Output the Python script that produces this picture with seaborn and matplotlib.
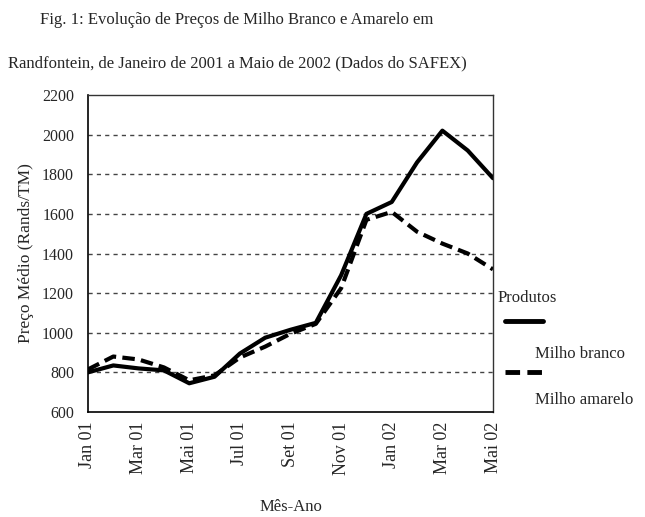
import numpy as np
import pandas as pd
import matplotlib
matplotlib.use("Agg")
import matplotlib.pyplot as plt
import seaborn as sns
from matplotlib.lines import Line2D

# monthly prices, Jan 2001 .. May 2002
meses = ["Jan 01", "Fev 01", "Mar 01", "Abr 01", "Mai 01", "Jun 01", "Jul 01", "Ago 01", "Set 01",
         "Out 01", "Nov 01", "Dez 01", "Jan 02", "Fev 02", "Mar 02", "Abr 02", "Mai 02"]
milho_branco = [800, 835, 820, 810, 745, 778, 895, 975, 1015, 1050, 1290, 1600, 1660, 1860, 2020, 1920, 1780]
milho_amarelo = [815, 880, 865, 825, 760, 785, 875, 930, 995, 1045, 1225, 1570, 1610, 1510, 1450, 1400, 1320]
tick_labels = ["Jan 01", "Mar 01", "Mai 01", "Jul 01", "Set 01", "Nov 01", "Jan 02", "Mar 02", "Mai 02"]

df = pd.DataFrame({"idx": range(len(meses)), "Milho branco": milho_branco, "Milho amarelo": milho_amarelo})
df = df.melt(id_vars="idx", var_name="Produto", value_name="Preco")

sns.set_style("white")
plt.rcParams["font.family"] = ["Liberation Serif", "DejaVu Serif"]

fig = plt.figure(figsize=(6.45, 5.17), dpi=100)
ax = fig.add_axes([88 / 645, 1 - 412 / 517, 405 / 645, 317 / 517])

sns.lineplot(data=df, x="idx", y="Preco", hue="Produto", style="Produto",
             palette={"Milho branco": "black", "Milho amarelo": "black"},
             dashes={"Milho branco": "", "Milho amarelo": (3, 1.5)},
             linewidth=3, legend=False, ax=ax)

ax.set_xlim(0, len(meses) - 1)
ax.set_ylim(600, 2200)
ax.set_yticks(range(600, 2201, 200))
ax.set_yticklabels([str(v) for v in range(600, 2201, 200)], fontsize=11.5)
ax.set_xticks(range(0, len(meses), 2))
ax.set_xticklabels(tick_labels, rotation=90, fontsize=13)
for v in range(800, 2001, 200):
    ax.axhline(v, color="#444444", lw=1, ls=(0, (3, 3)), zorder=0)

for s in ["left", "bottom"]:
    ax.spines[s].set_color("black")
    ax.spines[s].set_linewidth(1.2)
for s in ["top", "right"]:
    ax.spines[s].set_color("#333333")
    ax.spines[s].set_linewidth(1)
ax.tick_params(axis="both", direction="inout", length=4, width=3, color="black")
ax.tick_params(axis="y", pad=8)
ax.tick_params(axis="x", pad=5)

ax.set_xlabel("Mês-Ano", fontsize=12, labelpad=0)
ax.xaxis.set_label_coords(0.5, -0.275)
ax.set_ylabel("Preço Médio (Rands/TM)", fontsize=12.5, labelpad=6)

fig.text(40 / 645, 1 - 20 / 517, "Fig. 1: Evolução de Preços de Milho Branco e Amarelo em",
         fontsize=12, va="center", ha="left")
fig.text(8 / 645, 1 - 63 / 517, "Randfontein, de Janeiro de 2001 a Maio de 2002 (Dados do SAFEX)",
         fontsize=12, va="center", ha="left")

# legend drawn by hand like the original layout
fig.text(498 / 645, 1 - 298 / 517, "Produtos", fontsize=12, va="center", ha="left")
fig.add_artist(Line2D([505 / 645, 543 / 645], [1 - 321 / 517] * 2, color="black", lw=3.5))
fig.text(535 / 645, 1 - 354 / 517, "Milho branco", fontsize=12, va="center", ha="left")
fig.add_artist(Line2D([505 / 645, 543 / 645], [1 - 372 / 517] * 2, color="black", lw=3.5,
                      ls=(0, (3, 1.5))))
fig.text(535 / 645, 1 - 400 / 517, "Milho amarelo", fontsize=12, va="center", ha="left")

fig.savefig("out.png", dpi=100)
